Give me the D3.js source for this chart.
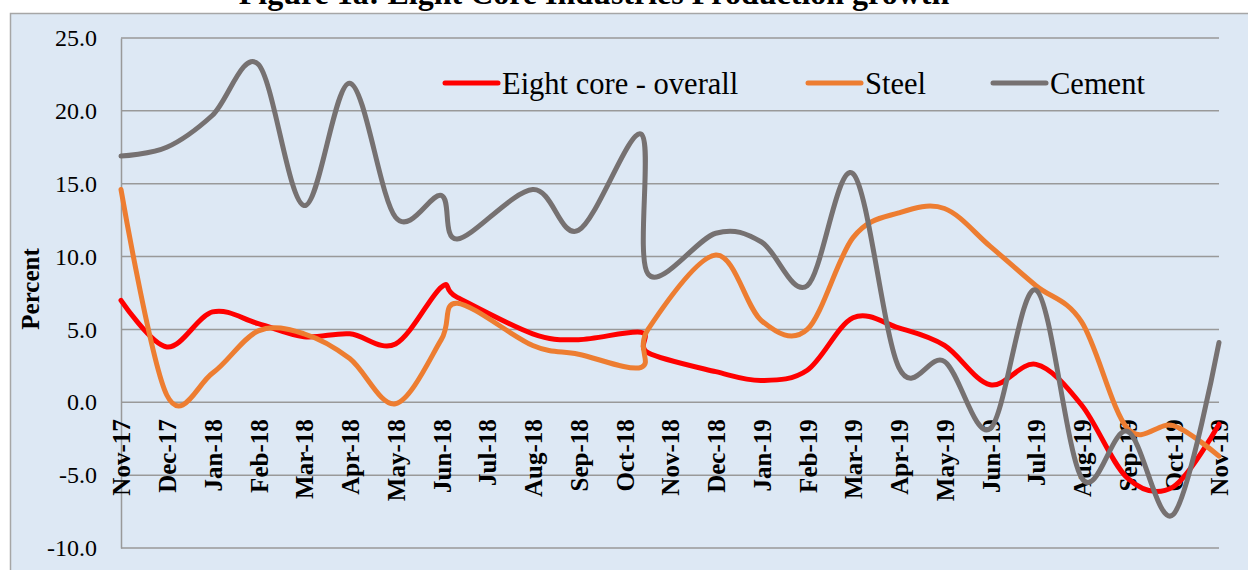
<!DOCTYPE html>
<html>
<head>
<meta charset="utf-8">
<script src="https://cdn.jsdelivr.net/npm/d3@7"></script>
<style>
  body { margin: 0; background: #fff; }
  svg { display: block; }
</style>
</head>
<body>
<svg width="1248" height="570"></svg>
<script>
// month labels on the category axis
var months = ['Nov-17', 'Dec-17', 'Jan-18', 'Feb-18', 'Mar-18', 'Apr-18', 'May-18', 'Jun-18',
    'Jul-18', 'Aug-18', 'Sep-18', 'Oct-18', 'Nov-18', 'Dec-18', 'Jan-19', 'Feb-19', 'Mar-19',
    'Apr-19', 'May-19', 'Jun-19', 'Jul-19', 'Aug-19', 'Sep-19', 'Oct-19', 'Nov-19'];

// where each monthly observation sits on the axis (0 = Nov-17), as plotted in the source
var obsPos = [0, 1, 2, 3, 4, 5, 6, 7, 7.35, 9, 10, 11.37, 11.52, 13, 14, 15, 16, 17, 18, 19, 20, 21, 22, 23, 24];

// growth rates, percent
var overall = [7.0, 3.8, 6.2, 5.4, 4.5, 4.7, 4.0, 7.9, 7.2, 4.7, 4.3, 4.8, 3.4, 2.1, 1.5, 2.2, 5.8, 5.1, 3.9, 1.2, 2.6, -0.2, -5.2, -5.8, -1.5];
var steel = [14.6, 0.5, 2.0, 4.9, 4.7, 3.0, -0.1, 4.3, 6.8, 3.9, 3.3, 2.4, 5.0, 10.1, 5.6, 5.0, 11.3, 13.0, 13.3, 10.7, 8.0, 5.5, -1.8, -1.6, -3.7];
var cement = [16.9, 17.5, 19.7, 23.2, 13.5, 21.9, 12.7, 14.2, 11.2, 14.6, 11.8, 18.4, 8.8, 11.6, 11.0, 8.0, 15.7, 2.4, 2.8, -1.8, 7.7, -5.2, -2.0, -7.7, 4.1];

var yTicks = [-10, -5, 0, 5, 10, 15, 20, 25];

var seriesNames = ['Eight core - overall', 'Steel', 'Cement'];
var seriesColors = ['#ff0000', '#ed7d31', '#767171'];

var width = 1248;
var height = 570;
var margin = {top: 38, bottom: 22, left: 121, right: 29};

var svg = d3.select('svg');
var serif = '"Liberation Serif", "DejaVu Serif", serif';

// title, mostly cut off at the top of the picture
svg.append('text')
    .attr('x', 594)
    .attr('y', 4)
    .attr('text-anchor', 'middle')
    .attr('font-family', serif)
    .attr('font-weight', 'bold')
    .attr('font-size', 32)
    .text('Figure 1a: Eight Core Industries Production growth');

// chart area frame
svg.append('rect')
    .attr('x', 10.5)
    .attr('y', 13.5)
    .attr('width', width)
    .attr('height', height)
    .attr('fill', '#dde8f4')
    .attr('stroke', '#a6a6a6')
    .attr('stroke-width', 1.5);

//scales
var xScale = d3.scaleLinear()
    .domain([0, months.length - 1])
    .range([margin.left, width - margin.right]);
var yScale = d3.scaleLinear()
    .domain([-10, 25])
    .range([height - margin.bottom, margin.top]);

// gridlines
svg.append('g')
    .selectAll('line')
    .data(yTicks)
    .enter().append('line')
    .attr('x1', margin.left)
    .attr('x2', width - margin.right)
    .attr('y1', d => yScale(d))
    .attr('y2', d => yScale(d))
    .attr('stroke', '#999')
    .attr('stroke-width', 1.5);

// y axis
var yAxis = d3.axisLeft(yScale)
    .tickValues(yTicks)
    .tickSize(0)
    .tickPadding(24)
    .tickFormat(d => d.toFixed(1));
var gy = svg.append('g')
    .attr('transform', 'translate(' + [margin.left, 0] + ')')
    .call(yAxis);
gy.select('.domain').attr('stroke', '#999').attr('stroke-width', 1.5);
gy.selectAll('text')
    .attr('font-family', serif)
    .attr('font-size', 24)
    .attr('fill', '#000');

svg.append('text')
    .attr('transform', 'translate(30,289) rotate(-90)')
    .attr('text-anchor', 'middle')
    .attr('dy', '0.35em')
    .attr('font-family', serif)
    .attr('font-weight', 'bold')
    .attr('font-size', 25)
    .text('Percent');

// x axis sits on the zero line
var xAxis = d3.axisBottom(xScale)
    .tickValues(d3.range(months.length))
    .tickSize(0)
    .tickFormat(i => months[i]);
var gx = svg.append('g')
    .attr('transform', 'translate(' + [0, yScale(0)] + ')')
    .call(xAxis);
gx.select('.domain').remove();
gx.selectAll('text')
    .attr('transform', 'rotate(-90)')
    .attr('text-anchor', 'end')
    .attr('x', -17)
    .attr('y', 0)
    .attr('dy', '0.35em')
    .attr('font-family', serif)
    .attr('font-weight', 'bold')
    .attr('font-size', 25)
    .attr('fill', '#000');

// smoothed lines
var line = d3.line()
    .x((d, i) => xScale(obsPos[i]))
    .y(d => yScale(d))
    .curve(d3.curveCardinal.tension(0));

svg.append('g')
    .selectAll('path')
    .data([overall, steel, cement])
    .enter().append('path')
    .attr('d', line)
    .attr('fill', 'none')
    .attr('stroke', (d, i) => seriesColors[i])
    .attr('stroke-width', 5)
    .attr('stroke-linejoin', 'round')
    .attr('stroke-linecap', 'round');

// legend
var legendX = [445, 808, 993];
var legend = svg.append('g')
    .selectAll('g')
    .data(seriesNames)
    .enter().append('g')
    .attr('transform', (d, i) => 'translate(' + [legendX[i], 83] + ')');
legend.append('line')
    .attr('x1', 0)
    .attr('x2', 53)
    .attr('stroke', (d, i) => seriesColors[i])
    .attr('stroke-width', 5)
    .attr('stroke-linecap', 'round');
legend.append('text')
    .attr('x', 57)
    .attr('dy', '0.35em')
    .attr('font-family', serif)
    .attr('font-size', 30.5)
    .text(d => d);
</script>
</body>
</html>
